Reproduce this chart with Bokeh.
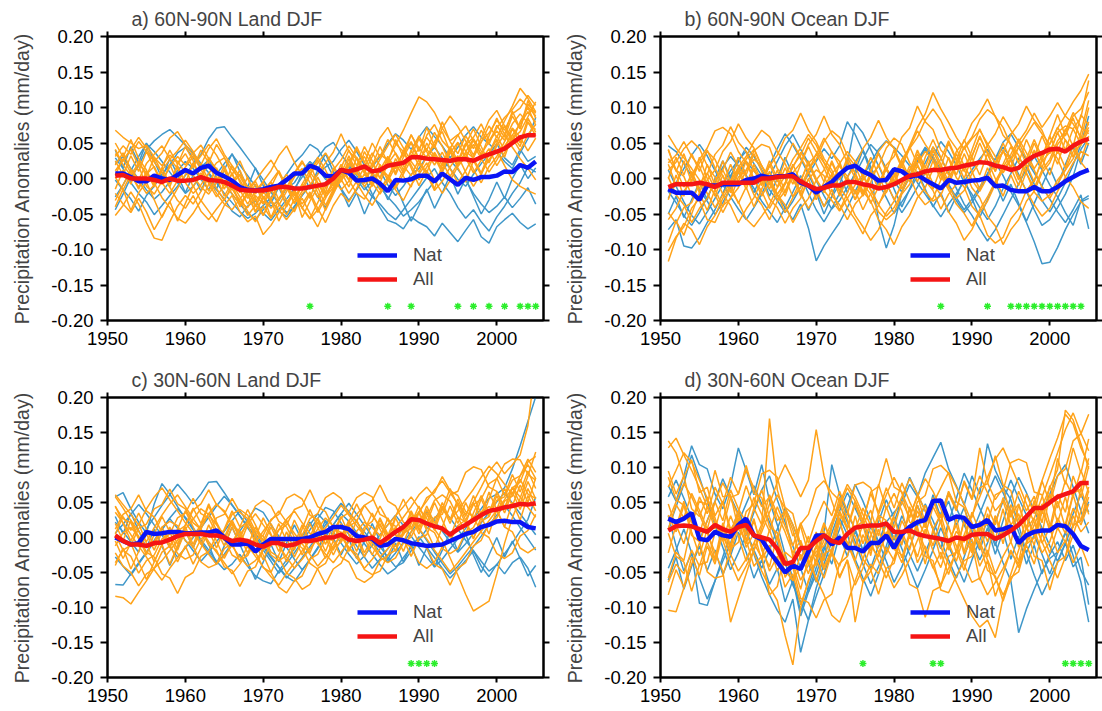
from bokeh.plotting import figure
from bokeh.models import (Range1d, LinearAxis, FixedTicker, PrintfTickFormatter,
                          CustomJSTickFormatter, Legend, LegendItem)
from bokeh.layouts import column, row
from bokeh.embed import file_html
from bokeh.resources import INLINE

FONT = "Liberation Sans"
YEARS = list(range(1951, 2006))
X_TICKS = [1950, 1960, 1970, 1980, 1990, 2000]
Y_TICKS = [-0.2, -0.15, -0.1, -0.05, 0.0, 0.05, 0.1, 0.15, 0.2]
STAR_LEVEL = -0.18
UNIT = 0.001  # series below are written in 1/1000 mm/day

TITLES = ["a) 60N-90N Land DJF", "b) 60N-90N Ocean DJF",
          "c) 30N-60N Land DJF", "d) 30N-60N Ocean DJF"]
YLABEL = "Precipitation Anomalies (mm/day)"

# ---------------- panel a : 60N-90N Land ----------------
A_ALL_MEAN = [4, 5, 0, 0, 0, -2, -5, 0, -3, -3,
              -2, 2, -2, -3, -5, -10, -16, -17, -17, -17,
              -15, -12, -12, -14, -14, -12, -10, -8, 0, 12,
              10, 13, 17, 10, 12, 18, 20, 22, 30, 30,
              28, 27, 26, 25, 27, 27, 25, 30, 34, 38,
              42, 50, 58, 61, 61]
A_NAT_MEAN = [7, 7, 2, -4, -4, 4, 0, -2, 5, 12,
              7, 15, 18, 8, 3, -3, -12, -16, -17, -15,
              -12, -10, -2, 7, 7, 18, 14, 4, 3, 12,
              8, -3, -2, 0, -7, -18, -2, -3, -1, 4,
              4, -4, 7, -1, -9, 1, -2, 2, 2, 4,
              10, 9, 19, 15, 24]
A_ALL_RUNS = [
    [68, 58, 50, 42, 47, 30, 18, 33, 24, 8,
     4, -12, -22, -6, 12, -14, -33, -41, -24, -36,
     -18, -8, -31, -47, -22, -9, 6, 22, 37, 63,
     38, 27, 8, 31, 57, 72, 49, 38, 61, 43,
     29, 52, 66, 38, 24, 47, 58, 77, 53, 71,
     86, 97, 112, 101, 88],
    [35, 24, 41, 18, -11, -22, -4, 16, 31, 19,
     36, 47, 28, 13, -7, -21, -37, -19, -4, -27,
     -42, -28, -13, 7, 22, 9, -6, -22, -8, 6,
     21, 8, -7, 17, 34, 26, 47, 68, 92, 115,
     108, 93, 71, 53, 62, 38, 29, 52, 64, 82,
     68, 91, 99, 117, 103],
    [-52, -38, -19, -36, -62, -84, -87, -61, -39, -24,
     -36, -18, 2, -14, -31, -9, 6, -12, -32, -18,
     -4, 11, -11, -27, -41, -56, -34, -13, 1, -16,
     -4, 16, 31, 9, -6, 21, 36, 18, 4, 27,
     41, 28, 14, 36, 51, 29, 8, 26, 42, 18,
     36, 57, 39, 62, 76],
    [31, 46, 34, 52, 38, 24, 36, 57, 66, 48,
     33, 19, 42, 56, 34, 18, 3, -16, -37, -52,
     -29, -11, 6, -17, -36, -19, -42, -62, -38, -21,
     -33, -14, 7, -11, 12, 31, 14, 37, 52, 28,
     61, 76, 53, 41, 18, 37, 56, 39, 23, 46,
     62, 44, 28, 14, -2],
    [2, -16, 6, 21, 8, -6, -27, -41, -56, -63,
     -49, -31, -46, -61, -38, -24, -47, -61, -53, -79,
     -66, -48, -34, -19, -42, -57, -44, -23, -4, 12,
     -2, -21, -29, -8, 16, 4, -11, 12, 31, 56,
     38, 19, 37, 14, -6, 11, 32, 51, 74, 58,
     81, 102, 127, 113, 94],
    [19, 36, 13, -2, 21, 34, 46, 28, 14, -6,
     -21, -9, 7, 22, 29, 13, -2, -22, -46, -28,
     -14, -36, -51, -29, -8, 11, 26, 3, -16, 2,
     17, 41, 23, 4, -16, 2, 21, 3, -12, 22,
     6, -17, -4, 16, 32, 9, -11, 7, 27, 39,
     18, -2, -11, -17, -22],
    [-21, -36, -48, -28, -47, -72, -53, -33, -14, 6,
     17, 32, 48, 33, 13, -7, -26, -46, -61, -39,
     -56, -38, -18, 2, 14, -6, -27, -9, 12, 26,
     46, 29, 8, -6, -22, -4, 17, 36, 19, -2,
     16, 37, 18, 42, 61, 74, 53, 34, 52, 67,
     54, 77, 91, 78, 69],
    [41, 19, 4, -12, 6, 17, -6, -21, -3, 16,
     31, 13, -7, -26, -9, 6, -16, -36, -18, -4,
     11, 32, 46, 23, 4, 21, -7, -26, -13, 7,
     32, 9, -12, 6, 27, 46, 62, 43, 24, 9,
     31, 47, 23, 3, 21, 36, 13, -6, 17, 31,
     52, 71, 58, 39, 57],
    [11, 26, 41, 58, 43, 23, 9, -12, -31, -42,
     -24, -46, -58, -43, -29, -14, -31, -52, -38, -19,
     -31, -44, -58, -43, -28, -49, -68, -43, -18, -3,
     11, -6, -24, -38, -19, 2, -14, 6, 27, 42,
     58, 43, 71, 88, 73, 53, 33, 57, 82, 96,
     74, 56, 66, 87, 108],
    [-31, -9, 12, -4, -21, -9, 11, 27, 39, 54,
     38, 18, -2, -21, -36, -44, -29, -14, -3, 12,
     26, 8, -12, -24, -13, 6, 22, 36, 18, -1,
     -21, -4, 16, 36, 18, -2, -16, -31, -9, 6,
     22, -2, -21, -3, 17, 31, 48, 28, 9, 26,
     46, 61, 77, 94, 79],
    [25, 5, 32, 10, 38, 15, -8, 20, -5, 15,
     -12, 8, -18, 3, -25, -5, -40, -22, -48, -25,
     -55, -30, -12, -35, -8, -28, 2, -20, 15, -5,
     28, 5, 38, 18, 45, 22, 55, 30, 62, 38,
     72, 45, 80, 52, 35, 60, 42, 68, 48, 75,
     58, 88, 70, 105, 92],
    [-15, 12, -8, 25, 3, 30, 8, -12, 18, -6,
     22, -2, 30, 10, -15, 8, -20, 2, -28, -52,
     -30, -60, -38, -15, -42, -22, -48, -28, -5, 20,
     -2, 30, 12, -8, 20, -2, 28, 8, 40, 18,
     50, 30, 8, 38, 15, -5, 25, 5, 35, 55,
     30, 62, 45, 80, 60],
    [50, 30, 55, 28, 12, -10, 15, -8, 20, 35,
     15, 40, 22, 48, 30, 5, 25, 0, -22, -5,
     -30, -8, -40, -18, -55, -32, -12, -38, -15, 10,
     -12, 15, -5, 22, 0, 30, 8, 40, 15, -10,
     12, -15, 20, 45, 25, 50, 28, 8, 35, 60,
     40, 70, 50, 85, 65],
    [-40, -15, -45, -20, -5, -30, -55, -32, -60, -35,
     -10, -32, -8, 15, -10, 18, -5, -28, -8, -35,
     -12, 10, -15, 8, 25, 5, 30, 12, -10, 15,
     40, 18, 45, 25, 0, 28, 5, 30, 50, 25,
     8, 35, 12, 40, 20, 48, 70, 45, 22, 50,
     75, 52, 80, 100, 75],
    [5, 28, 8, -15, 10, -12, 15, 40, 20, 45,
     25, 0, 22, -5, 18, -8, 12, -15, -40, -18,
     -5, -30, -10, -35, -18, 5, -20, -45, -22, 0,
     20, 45, 22, 50, 30, 55, 35, 12, 38, 60,
     40, 65, 45, 22, 50, 28, 55, 32, 60, 85,
     62, 95, 70, 110, 85],
]
A_NAT_RUNS = [
    [-44, -22, 2, 18, 41, 53, 62, 69, 58, 47,
     36, 21, 8, -6, -21, -34, -47, -56, -49, -38,
     -27, -9, 6, 22, 33, 48, 41, 24, 3, -14,
     -31, -16, 1, -22, -41, -59, -63, -71, -54, -62,
     -68, -81, -63, -76, -89, -73, -58, -82, -91, -68,
     -58, -49, -62, -71, -64],
    [29, 14, -6, -21, -33, -51, -38, -24, -11, 4,
     21, 34, 56, 71, 73, 58, 44, 29, 14, -2,
     -19, -36, -48, -41, -23, -11, 7, 16, 24, 41,
     54, 38, 19, 6, -12, -26, -38, -53, -44, -33,
     -18, -4, 11, 26, 13, -2, -21, -36, -48, -39,
     -26, -41, -28, -13, -36],
    [-2, -16, -29, -46, -24, -11, 6, 19, 36, 44,
     29, 16, 26, 9, -6, -22, -36, -49, -58, -44,
     -31, -46, -54, -39, -24, -9, -26, -41, -19, 6,
     21, 9, -4, 16, 31, 49, 63, 54, 41, 58,
     73, 59, 46, 29, 44, 61, 73, 58, 49, 38,
     24, 14, 36, 56, 86],
    [-26, -9, 11, 31, 49, 38, 24, 9, -6, -21,
     -11, 4, -4, -16, -29, -46, -54, -39, -31, -49,
     -59, -44, -29, -14, 2, 16, 29, 44, 51, 34,
     19, 4, -11, -26, -36, -49, -58, -44, -29, -14,
     1, 14, -6, -21, -41, -56, -44, -61, -74, -54,
     -39, -21, -6, 16, 9],
    [21, 31, 14, -1, -16, -29, -19, -4, 11, 24,
     14, -1, -16, 6, 21, 34, 19, 4, -11, -26,
     -39, -31, -14, -6, 11, 24, 14, -1, -9, 6,
     16, -1, -16, -4, 11, -9, -24, -11, 6, 14,
     31, 44, 29, 14, -1, -11, 6, 21, 34, 49,
     29, 19, 41, 24, 31],
    [40, 15, 45, 22, 50, 25, 0, 28, 5, -20,
     5, -18, 8, -15, 12, 35, 10, -12, 15, -10,
     -35, -12, -38, -18, 8, -15, 12, 35, 10, -15,
     -40, -20, -50, -25, -5, -30, -8, -35, -60, -38,
     -15, -42, -20, 5, -22, 0, -25, -50, -30, -5,
     -28, 0, 20, 0, 15],
]
A_STARS = [1976, 1986, 1989, 1995, 1997, 1999, 2001, 2003, 2004, 2005]

# ---------------- panel b : 60N-90N Ocean ----------------
B_ALL_MEAN = [-12, -8, -8, -8, -6, -8, -12, -6, -6, -6,
              -6, -6, 0, 0, 2, 3, 3, -4, -10, -15,
              -13, -10, -10, -5, -5, -8, -10, -14, -12, -8,
              -2, 4, 6, 10, 12, 12, 14, 15, 18, 20,
              23, 22, 18, 16, 12, 15, 25, 32, 36, 41,
              42, 38, 46, 52, 56]
B_NAT_MEAN = [-15, -20, -20, -20, -30, -10, -10, -8, -8, -8,
              -2, 0, 4, 1, 3, 3, 6, -6, -10, -20,
              -12, -5, 6, 15, 18, 10, 5, -3, -2, 13,
              10, 2, 5, -2, -8, -14, -2, -6, -5, -3,
              -2, 1, -11, -10, -16, -18, -18, -12, -18, -18,
              -12, -4, 2, 8, 12]
B_ALL_RUNS = [
    [-117, -84, -63, -72, -93, -68, -52, -28, -9, 12,
     27, 41, 18, -2, -22, -6, 16, 37, 19, -3,
     -17, -31, -46, -28, -9, 6, -16, -36, -19, 2,
     21, 46, 72, 91, 121, 98, 79, 58, 41, 56,
     68, 49, 31, 8, 26, 44, 62, 79, 63, 48,
     71, 89, 108, 124, 147],
    [61, 43, 29, 14, -2, -21, -41, -23, -4, 16,
     31, 52, 68, 59, 38, 21, -2, -21, -42, -24,
     -11, 6, 21, 38, 24, 3, -16, -37, -53, -41,
     -19, 2, 21, 38, 26, 4, -16, -36, -49, -67,
     -44, -26, -4, 16, 34, 56, 36, 14, 31, 49,
     72, 54, 41, 23, 9],
    [41, 12, 3, -24, -31, -58, -62, -38, -29, 2,
     11, 39, 48, 44, 14, 1, -26, -3, 21, 33,
     57, 37, 24, -8, -17, -44, -21, -10, 19, 31,
     58, 71, 102, 80, 69, 40, 28, 1, -12, -39,
     -52, -80, -91, -83, -57, -43, -17, -2, 24, 37,
     65, 74, 70, 86, 138],
    [-48, -63, -41, -34, -7, 6, 34, 47, 73, 51,
     38, 11, -2, -29, -41, -63, -42, -28, -1, 12,
     4, -24, -37, -58, -36, -23, 4, 17, 43, 57,
     48, 22, 8, -18, -32, -24, 3, 17, 44, 58,
     83, 97, 88, 61, 48, 22, 8, -19, -32, -23,
     -2, 12, 38, 47, 68],
    [22, 33, 52, 31, 17, -8, -22, -48, -27, -13,
     12, 27, 18, -8, -22, -48, -27, -12, 13, 27,
     52, 67, 58, 32, 18, -8, -22, -47, -58, -48,
     -22, -8, 18, -3, -17, -43, -22, -8, 18, 32,
     58, 37, 23, 37, 62, 77, 102, 82, 68, 42,
     28, 2, -12, -33, -42],
    [-102, -82, -68, -42, -28, -2, 12, 38, 52, 77,
     57, 43, 17, 3, -23, -37, -62, -42, -28, -2,
     12, 38, 17, 3, -22, -2, 12, 38, 52, 43,
     17, 3, -23, -37, -28, -2, 12, 38, 52, 78,
     92, 112, 87, 72, 47, 33, 7, -13, 12, 27,
     53, 67, 93, 72, 63],
    [2, -23, -37, -62, -42, -28, -2, 12, 37, 17,
     3, -23, -37, -58, -32, -18, 8, 22, 48, 62,
     88, 62, 48, 22, 8, -18, -32, -58, -72, -93,
     -68, -52, -27, -13, 13, 27, 53, 27, 13, -13,
     -27, -53, -67, -93, -72, -58, -32, -18, 8, 22,
     48, 62, 88, 98, 122],
    [28, 12, -12, 3, 27, 43, 67, 72, 63, 38,
     22, -2, -18, -42, -22, -8, 17, 33, 57, 38,
     22, -2, -18, -42, -58, -78, -52, -38, -12, 3,
     27, 43, 67, 48, 32, 8, -12, -28, -17, 7,
     23, 47, 63, 87, 68, 52, 28, 12, -12, -28,
     -8, 12, 28, 52, 72],
    [-58, -42, -18, -2, 22, 38, 27, 3, -17, -33,
     -57, -68, -53, -37, -13, 3, 27, 43, 62, 47,
     23, 7, -17, 2, 18, 42, 58, 82, 58, 42,
     18, 42, 58, 82, 98, 82, 58, 42, 18, -2,
     -18, 2, 22, 38, 27, 3, -17, -37, -53, -42,
     -18, 2, 22, 38, 32],
    [12, 23, 42, 53, 42, 18, 2, -22, -38, -62,
     -43, -27, -3, 17, 33, 57, 68, 92, 68, 52,
     28, 12, -12, -28, -52, -68, -87, -72, -48, -32,
     -8, 12, 28, 17, -7, -23, -47, -63, -87, -72,
     -48, -32, -8, 12, 28, 52, 68, 92, 72, 88,
     107, 88, 77, 58, 47],
    [-30, 5, -25, 10, -15, 20, -10, 25, -5, 30,
     5, 35, 10, -15, 12, -20, 8, -25, 0, -30,
     -5, 25, 0, 30, 8, -20, 10, -15, 15, -10,
     20, -5, 30, 5, 40, 15, 50, 25, 55, 30,
     60, 35, 10, 40, 15, 45, 20, 50, 25, 60,
     35, 70, 45, 90, 75],
    [20, -10, 25, -5, 30, 0, -25, 5, -20, 10,
     -15, 15, -10, 20, -5, 25, 50, 30, 10, 35,
     15, -10, 20, -5, -30, -8, -35, -12, 15, -5,
     25, 0, 35, 10, -15, 15, -10, 20, 45, 20,
     50, 25, 0, -25, 5, -20, 10, 40, 15, 45,
     20, 55, 30, 65, 110],
    [-90, -60, -80, -50, -20, -45, -15, -40, -10, 15,
     -10, 20, -5, 25, 0, -25, 5, -20, 10, -15,
     -40, -15, -45, -20, 5, -22, 8, 35, 10, 40,
     15, 45, 20, -5, 25, -2, 30, 5, 35, 10,
     -15, 15, -12, 20, 45, 22, 55, 30, 60, 35,
     65, 40, 70, 48, 80],
    [0, 30, 5, 35, 10, 40, 15, -10, 20, -5,
     25, 0, -25, -5, -30, -8, 20, -5, 25, 0,
     -20, 5, -25, 0, -30, 2, 30, 5, -20, 8,
     -15, 10, 40, 15, 45, 20, -5, 25, 0, 30,
     5, 35, 10, 40, 15, -10, 20, -5, 28, 5,
     40, 15, 50, 25, 60],
    [40, 10, 35, 5, -20, 8, -15, 12, -10, -35,
     -12, -40, -15, 10, -12, 15, -8, 20, 45, 20,
     -5, 22, -2, 25, 0, -25, -5, 20, -5, -30,
     -8, 18, -5, 30, 55, 30, 5, 35, 10, 40,
     70, 45, 20, 50, 25, -2, 28, 55, 30, 60,
     90, 60, 85, 55, 100],
]
B_NAT_RUNS = [
    [-72, -58, -95, -98, -83, -62, -44, -21, 4, 23,
     44, 31, 12, -6, -23, -41, -58, -36, -70, -116,
     -95, -78, -62, -41, -18, 3, 22, 41, 53, 44,
     32, 18, -6, -22, -38, -54, -36, -21, -4, 12,
     28, 41, 23, 4, -19, -38, -62, -89, -120, -118,
     -97, -72, -51, -33, -28],
    [46, 38, 21, 3, -16, -32, -51, -34, -13, 8,
     24, 11, -4, 18, 42, 63, 47, 28, 6, -18,
     -39, -26, -8, 21, 78, 64, 41, 18, -7, -29,
     -48, -31, -12, 8, 31, 52, 38, 19, -6, -22,
     -41, -58, -39, -14, 7, 29, 16, -8, -31, -47,
     -28, -6, 19, 48, 88],
    [-28, -6, 14, 33, 48, 32, 11, -9, -26, -43,
     -58, -41, -22, 3, 24, 46, 62, 41, 22, -3,
     -24, -43, -31, -12, 6, 27, 48, 36, 14, -4,
     -19, 2, 24, 41, 28, 11, -8, -27, -44, -29,
     -12, 7, 28, 51, 63, 44, 26, 8, -11, -29,
     -47, -62, -44, -23, -71],
    [12, -11, -33, -52, -64, -47, -28, -9, 11, 26,
     38, 21, 4, -16, -31, -48, -32, -12, 6, 24,
     42, 28, 46, 80, 62, 38, 16, -6, -27, -49,
     -33, -16, 3, 22, 44, 29, 8, -14, -36, -52,
     -71, -88, -72, -51, -29, -8, 14, 31, 12, -9,
     -26, -48, -66, -31, -24],
    [-18, -34, -52, -66, -48, -26, -6, 16, 31, 18,
     4, -14, -32, -47, -62, -41, -19, 4, -21, -44,
     -61, -42, -21, 2, 23, 41, 7, -58, -98, -66,
     -19, 4, 26, 44, 31, 12, -9, -31, -48, -34,
     -16, 6, 28, 44, 29, 6, -18, -44, -66, -58,
     -41, -22, 3, 41, 58],
    [-50, -25, -55, -30, -5, -30, 0, 25, 0, 30,
     5, -20, 5, -25, 0, 30, 5, -20, -45, -20,
     -50, -25, 5, -20, 10, 40, 15, -10, 15, -15,
     -40, -15, 10, -15, -40, -20, -48, -25, 0, -28,
     -55, -30, -5, -32, -8, -35, -60, -35, -10, 15,
     -10, 20, 45, 20, 50],
]
B_STARS = [1986, 1992, 1995, 1996, 1997, 1998, 1999, 2000, 2001, 2002, 2003, 2004]

# ---------------- panel c : 30N-60N Land ----------------
C_ALL_MEAN = [3, -5, -10, -10, -12, -8, -7, -3, 2, 5,
              5, 5, 3, 3, 0, -5, -3, -5, -10, -13,
              -8, -8, -12, -10, -5, -5, -3, 0, 0, 4,
              -3, -5, -3, 0, -8, 0, 8, 15, 26, 25,
              20, 16, 13, 4, 12, 18, 25, 32, 38, 40,
              43, 45, 48, 47, 49]
C_NAT_MEAN = [0, -5, -10, -8, 8, 5, 6, 8, 8, 6,
              6, 7, 7, 10, 0, -10, -10, -8, -20, -10,
              -2, -2, -2, -2, -2, 0, 5, 8, 15, 15,
              12, 2, 0, -2, -12, -10, -2, -4, -8, -10,
              -12, -11, -10, -5, 0, 5, 8, 15, 18, 23,
              24, 22, 22, 15, 13]
C_ALL_RUNS = [
    [-84, -86, -95, -78, -62, -44, -33, -19, -4, 12,
     26, 41, 33, 18, 4, -12, -28, -41, -33, -18,
     -4, 11, 26, 38, 21, 6, -9, -24, -36, -21,
     -6, 9, 22, 14, 3, 18, 31, 44, 58, 42,
     27, 12, -4, -29, -54, -81, -105, -98, -91, -52,
     -8, 28, 56, 88, 122],
    [58, 42, 24, 9, -6, 14, 32, 48, 61, 44,
     27, 11, -6, -21, -36, -52, -38, -22, -7, 9,
     24, 38, 22, 6, -9, -24, -41, -28, -12, 4,
     18, 33, 46, 31, 17, 2, -13, 4, 21, 37,
     52, 68, 81, 64, 48, 33, 51, 72, 94, 108,
     91, 104, 118, 160, 250],
    [36, 21, 4, -12, -28, -46, -61, -44, -29, -14,
     2, 18, 34, 48, 36, 19, 4, -11, -27, -42,
     -56, -68, -51, -36, -19, -4, 12, 28, 16, 1,
     -14, -29, -44, -31, -16, -1, 14, 29, 44, 61,
     72, 58, 41, 26, 38, 54, 69, 86, 102, 91,
     76, 62, 88, 104, 84],
    [61, 47, 33, 18, 41, 58, 71, 54, 38, 21,
     6, -9, -24, -38, -26, -11, 4, 19, 34, 18,
     3, -12, -28, -44, -31, -16, -2, 14, 29, 46,
     32, 17, 2, -13, -28, -16, -1, 14, 29, 13,
     -2, -18, -33, -49, -36, -21, -6, 9, 24, 39,
     54, 71, 58, 43, 29],
    [-22, -41, -50, -69, -52, -44, -21, -12, 9, 17,
     39, 48, 68, 47, 38, 17, 9, -14, -21, -43,
     -50, -71, -79, -62, -55, -31, -24, -2, 4, 28,
     36, 57, 64, 58, 33, 27, 3, -2, -27, -1,
     4, 29, 33, 61, 66, 93, 101, 97, 72, 66,
     42, 71, 79, 108, 116],
    [12, 33, 41, 61, 38, 29, 7, -1, -23, -31,
     -25, -2, 5, 28, 33, 56, 36, 27, 5, -3,
     -25, -33, -26, -4, 3, 27, 34, 57, 64, 56,
     33, 24, 2, -6, -28, -36, -29, -8, 1, 23,
     29, 53, 61, 52, 29, 22, -1, 23, 30, 53,
     58, 82, 88, 112, 93],
    [-36, -18, -11, 13, 19, 41, 47, 69, 48, 41,
     21, 12, -11, -18, -42, -47, -70, -48, -42, -17,
     -12, 11, 18, 40, 45, 68, 44, 37, 14, 7,
     -16, -23, -46, -53, -48, -25, -18, 6, 13, 37,
     14, 7, -16, -23, -16, 7, 14, 37, 44, 38,
     15, 8, -15, -22, -14],
    [44, 27, 21, -2, -11, -6, 15, 23, 17, -5,
     -13, -35, -43, -38, -16, -8, 14, 22, 45, 53,
     45, 23, 15, -7, -15, -37, -45, -67, -45, -37,
     -15, -7, 15, 23, 45, 24, 16, -6, -14, -36,
     -44, -35, -13, -5, 17, 25, 47, 55, 77, 84,
     105, 112, 111, 90, 82],
    [4, -18, -27, -51, -33, -25, -2, 5, 28, 35,
     56, 34, 28, 5, -2, -25, -32, -26, -4, 3,
     26, 33, 56, 62, 55, 32, 25, 2, -5, -28,
     -35, -58, -64, -56, -33, -26, -3, 4, 27, 34,
     57, 64, 87, 67, 60, 37, 30, 7, 0, -23,
     -30, -22, 2, 10, 33],
    [-12, 7, 14, 2, -21, -28, -52, -58, -80, -57,
     -50, -27, -20, 3, 10, 33, 40, 32, 9, 2,
     -21, -28, -51, -58, -74, -67, -44, -37, -14, -7,
     16, 23, 46, 53, 75, 52, 45, 22, 15, -8,
     -15, -38, -45, -68, -44, -36, -12, -4, 20, 28,
     52, 59, 83, 62, 56],
    [20, -5, 25, 0, -25, 5, 30, 8, -18, 10,
     -15, 12, 35, 10, -12, 15, -10, 18, -8, -32,
     -8, 20, -5, 25, 2, -22, 5, -20, 8, 30,
     5, -20, 10, 35, 12, -10, 15, -8, 20, 45,
     20, 50, 25, 0, 30, 5, 35, 60, 35, 65,
     40, 72, 48, 80, 55],
    [-40, -15, -45, -20, 5, -18, 8, -15, 12, 38,
     15, -10, 18, -5, -30, -8, -35, -12, 15, -10,
     15, -8, -35, -10, 18, -5, 22, 0, -25, -2,
     25, 0, -28, -5, 20, -5, 28, 5, 35, 10,
     40, 15, 45, 20, 50, 25, -2, 30, 5, 40,
     15, 50, 25, 60, 38],
    [5, 30, 10, 35, 12, -12, 15, -10, -35, -12,
     -38, -15, 10, -15, 12, 38, 15, 40, 18, -5,
     20, -2, 25, 0, -25, 0, 28, 5, -18, 8,
     -20, 5, -22, 0, 28, 5, -20, 10, 38, 15,
     45, 20, 50, 25, 55, 30, 60, 32, 65, 40,
     70, 45, 75, 50, 85],
    [45, 20, -5, 20, -8, -35, -10, 15, -10, 18,
     42, 20, 48, 22, 0, 25, 2, -22, 2, -25,
     -50, -25, 0, -28, -5, 20, -5, -30, -5, 20,
     -5, 25, 0, -25, -2, 28, 5, -20, 8, 35,
     10, -15, 15, 45, 20, 50, 25, 55, 30, 60,
     35, 65, 40, 70, 45],
    [-5, -30, -8, -35, -60, -35, -10, -38, -12, 15,
     -10, 18, 45, 20, -5, 22, -2, 25, 0, 28,
     5, -20, 8, -18, 12, 40, 15, -10, 18, -5,
     22, 48, 25, 0, 25, 2, 30, 55, 30, 5,
     35, 10, 40, 70, 45, 20, 50, 25, 55, 85,
     60, 90, 65, 95, 70],
]
C_NAT_RUNS = [
    [-67, -68, -52, -36, -21, -4, 12, 28, 41, 29,
     14, -3, -18, -34, -46, -38, -24, -41, -55, -62,
     -66, -48, -32, -16, 2, 18, 34, 22, 8, -8,
     -24, -38, -26, -11, 4, 18, 32, 17, 2, -14,
     -28, -42, -31, -16, -2, 13, 28, 41, 56, 62,
     71, 98, 131, 166, 201],
    [58, 64, 41, 22, 6, 48, 77, 62, 44, 27,
     11, -6, -22, -38, -24, -8, 9, 26, 42, 36,
     18, 2, -14, -31, -46, -32, -16, 1, 18, 34,
     49, 33, 17, 2, -13, -28, -42, -36, -19, -4,
     12, 27, 41, 28, 12, -4, -19, -34, -48, -39,
     -23, -8, 9, 26, 58],
    [22, 8, -6, -21, 12, 29, 46, 61, 76, 63,
     48, 62, 79, 80, 64, 47, 31, 14, -2, -18,
     -34, -51, -38, -22, -6, 11, 27, 43, 38, 21,
     4, -12, -28, -44, -31, -16, -2, 13, 28, 12,
     -4, -21, -37, -52, -41, -27, -13, 2, 18, 32,
     46, 31, 14, -2, -18],
    [-28, -41, -54, -38, -22, -6, 11, 27, 13, -4,
     -19, -34, -21, -6, 9, 24, 38, 22, 6, -11,
     -27, -42, -56, -63, -47, -31, -14, 2, 18, 34,
     23, 7, -9, -24, -39, -52, -44, -29, -14, 1,
     -14, -29, -44, -58, -46, -33, -19, -41, -56, -38,
     -52, -36, -28, -44, -71],
    [6, 19, 33, 47, 34, 18, 3, -13, -28, -15,
     0, 14, 29, 45, 59, 46, 31, 16, 1, -14,
     -29, -43, -58, -44, -29, -13, 2, 18, 34, 49,
     37, 22, 8, -6, -21, -35, -22, -7, 8, 23,
     37, 24, 9, -6, -21, -9, 6, 21, 36, 51,
     64, 49, 34, 19, 4],
    [30, 5, 35, 10, -15, 12, -12, -40, -15, 10,
     -15, 12, -10, -38, -12, 15, -10, -35, -60, -35,
     -10, -35, -8, 18, -5, 22, -2, 25, 0, -25,
     -2, -30, -5, 20, -5, -32, -8, -35, -10, -40,
     -15, -42, -18, 8, -20, 5, -25, -50, -25, 0,
     -28, -5, -30, -55, -40],
]
C_STARS = [1989, 1990, 1991, 1992]

# ---------------- panel d : 30N-60N Ocean ----------------
D_ALL_MEAN = [10, 16, 17, 16, 12, 8, 18, 12, 8, 15,
              18, 3, 0, -3, -16, -38, -35, -15, -15, -5,
              3, -5, -8, 5, 14, 16, 17, 17, 20, 8,
              8, 10, 5, 2, 0, -2, -5, 0, -2, 4,
              5, 5, -2, 3, 10, 18, 30, 42, 42, 50,
              58, 62, 66, 78, 78]
D_NAT_MEAN = [27, 22, 27, 35, -2, -4, 8, 3, 1, 18,
              27, 3, -3, -20, -35, -50, -40, -45, -20, 3,
              3, -10, 0, -15, -15, -20, -8, -8, 3, -15,
              5, 15, 22, 25, 52, 53, 25, 30, 28, 15,
              18, 25, 10, 12, 16, -8, 3, 8, 10, 10,
              18, 16, 5, -12, -18]
D_ALL_RUNS = [
    [128, 142, 118, 96, 71, 44, 22, 3, -24, -48,
     -31, -8, 19, 170, 68, 31, -28, -61, -39, -20,
     -12, 16, 44, 71, 52, 24, -6, -34, -58, -29,
     2, 31, 58, 84, 66, 41, 14, -12, -39, -64,
     -58, -82, -64, -44, -21, -38, -6, 27, 58, 89,
     121, 154, 178, 149, 124],
    [-104, -106, -72, -38, -8, 24, 51, 78, 56, 31,
     8, -22, -48, -71, -90, -140, -182, -100, -61, -32,
     -4, 22, 49, 76, 58, 33, 6, -21, -46, -72,
     -54, -31, -4, 22, 48, 71, 93, 72, 48, 21,
     -6, -32, -58, -82, -61, -36, -9, 18, 44, 71,
     97, 182, 168, 134, 98],
    [72, 96, 121, 108, 82, 56, 28, -4, -36, -62,
     -41, -18, 8, 36, 61, 42, 18, -8, -34, -58,
     -82, -111, -121, -94, -62, -31, 2, 33, 61, 86,
     64, 38, 12, -16, -42, -68, -44, -21, 4, 31,
     58, 86, 112, 128, 102, 76, 48, 21, -6, -33,
     -58, -28, 4, 38, 72],
    [24, 51, 77, 58, 33, 6, -21, -48, -121, -86,
     -52, -18, 14, 48, 79, 104, 82, 58, 82, 154,
     88, 52, 21, -8, -36, -64, -48, -22, 4, 32,
     58, 84, 62, 38, 12, -14, -38, -64, -88, -112,
     -128, -118, -143, -86, -52, -18, 14, 48, 81, 113,
     142, 176, 162, 128, 104],
    [-58, -21, -33, 18, 52, 47, 96, 58, 61, 12,
     -3, -41, -26, -82, -70, -21, -30, 19, 33, 70,
     81, 64, 53, 11, 2, -31, -46, -81, -44, -37,
     4, 12, 51, 60, 98, 103, 92, 51, 43, 4,
     -9, -47, -55, -91, -57, -49, -9, -1, 39, 47,
     88, 98, 138, 148, 176],
    [86, 54, 46, 3, -6, -49, -58, -55, -16, -7,
     37, 48, 91, 96, 86, 43, 34, -11, -19, -63,
     -23, -17, 27, 33, 75, 79, 71, 32, 24, -17,
     -25, -67, -73, -114, -76, -70, -27, -21, 23, 29,
     71, 77, 117, 75, 67, 25, 17, -27, -33, -75,
     -35, -27, 17, 25, 67],
    [6, -27, -35, -77, -39, -35, 7, 13, 57, 62,
     103, 63, 57, 15, 7, -35, -43, -87, -93, -115,
     -89, -81, -37, -27, 15, 23, 65, 73, 113, 72,
     65, 22, 15, -27, -33, -75, -79, -55, -33, -27,
     15, 19, 61, 67, 107, 112, 107, 65, 61, 19,
     13, 19, 63, 69, 113],
    [138, 121, 86, 111, 64, 72, 31, 52, 12, 28,
     -14, 6, -32, -11, -48, -26, -62, -41, -9, -28,
     18, -6, 38, 14, 52, 24, 63, 36, 71, 42,
     78, 51, 28, 46, 12, 33, -6, 18, -24, -2,
     -41, -18, -52, -27, -6, -34, 16, -11, 38, 14,
     62, 36, 88, 57, 102],
    [-64, -38, -52, -18, -41, -6, -33, 12, -16, 28,
     4, 42, 18, 61, 33, 8, -22, -4, -38, -12,
     -46, -21, -58, -32, -121, -64, -38, -52, -14, -33,
     8, -18, 26, 3, 44, 21, 62, 38, 81, 56,
     128, 78, 54, 71, 32, 48, 12, 28, -8, 14,
     -22, -4, -36, -12, -41],
    [32, 8, 46, 21, 58, 34, 72, 48, 86, 62,
     96, 71, 44, 58, 24, 38, 2, 16, -24, -6,
     -42, -18, -56, -32, -68, -44, -12, -28, 8, -14,
     24, 2, 38, 16, 52, 28, 66, 42, 78, 54,
     88, 64, 38, 52, 18, 34, -4, 12, -22, -6,
     28, 6, 42, 18, 48],
    [95, 62, 88, 41, 30, 58, 22, -5, 31, 2,
     -34, -8, -29, 11, -22, -48, -61, -24, -52, -12,
     21, -6, 34, 12, 47, 18, 39, 2, 44, 14,
     52, 28, 61, 20, -12, 25, -18, 9, -7, 36,
     8, 44, 18, 57, 29, 66, 38, 59, 21, 74,
     42, 81, 58, 96, 64],
    [-22, 18, -9, 33, 4, 45, 12, 51, 6, 38,
     -4, 27, -18, -42, 3, -57, -38, -74, -29, 8,
     -33, 14, 58, 26, -14, 19, -26, 31, -2, 29,
     -11, 44, 7, -38, 12, -31, 17, -22, 26, -19,
     22, -28, 31, -9, 40, -14, 29, 2, 48, 9,
     52, 14, 61, 23, 58],
    [48, 14, 52, 8, -26, 12, -31, 21, -12, 36,
     74, 42, 68, 29, -4, 38, 11, -33, 2, -41,
     9, -27, 24, -16, 31, -9, 22, 76, 41, 63,
     38, -2, 46, 14, 57, 21, -17, 28, -21, 19,
     -16, 34, -3, 41, -8, 47, 12, 53, 4, 62,
     21, 58, 14, 71, 33],
    [-82, -46, -71, -28, -54, -12, -38, 6, -22, 17,
     -9, 24, -13, -48, -27, -71, -52, -96, -63, -31,
     -58, -22, -41, -6, -33, 4, -19, 12, -24, 3,
     -29, 8, -36, -12, -44, -21, -53, -18, -47, -8,
     -61, -33, -84, -52, -18, -43, -11, -38, 6, -22,
     14, -7, 31, 8, 22],
    [12, 47, 28, 63, 39, 12, 51, 24, 68, 41,
     22, 57, 33, 9, 44, 16, -12, 21, -8, 26,
     52, 31, 66, 38, 11, 42, 17, -14, 19, -11,
     -36, 4, -28, 12, -19, -43, -8, -34, 3, -22,
     24, -6, 31, 3, 47, 18, 62, 34, 81, 49,
     113, 76, 128, 92, 141],
]
D_NAT_RUNS = [
    [74, 52, 88, 131, 104, 98, 62, 41, 74, 128,
     96, 61, 104, 52, 18, -24, -58, -106, -72, -31,
     8, 104, 62, 34, 12, -18, -44, -12, 22, 36,
     48, 76, 58, 92, 114, 136, 98, 74, 46, 88,
     62, 134, 96, 72, 54, 18, -22, 4, 38, 62,
     88, 104, 72, 38, 6],
    [31, -12, -48, -22, -94, -97, -62, -28, 6, 38,
     12, -24, -56, -82, -104, -121, -88, -164, -118, -72,
     -38, -6, 28, 4, -31, -58, -84, -52, -21, 12,
     -16, -44, -72, -46, -18, 14, -12, -38, -64, -32,
     -4, 24, -8, -36, -62, -136, -102, -74, -48, -30,
     -21, 8, -26, -64, -121],
    [12, 44, 76, 118, 86, 52, 18, -14, -46, -22,
     4, 36, 68, 88, 54, 22, -12, -44, -78, -52,
     -18, 16, 48, 22, -6, -38, -66, -42, -12, 22,
     54, 86, 62, 38, 12, -16, 22, 56, 92, 68,
     42, 18, -12, 24, 58, 86, 64, 38, 14, -12,
     -34, -8, 18, 24, 51],
    [-44, -18, 12, -22, -58, -88, -62, -34, -8, 22,
     48, 74, 48, 22, -8, -36, -68, -92, -118, -84,
     -52, -18, 12, 44, 76, 52, 24, -6, -34, -64,
     -42, -14, 16, 48, 24, -4, -32, -58, -28, 6,
     34, 62, 88, 64, 38, 8, -22, -54, -82, -58,
     -36, -8, -42, -28, -96],
    [58, 82, 56, 28, -4, 24, 52, 84, 58, 34,
     8, -18, -44, -18, 12, 42, 18, -12, -38, -64,
     -28, 6, 38, 64, 42, 18, -12, 22, 54, 28,
     2, -24, -48, -22, 6, 34, 64, 42, 18, -6,
     -32, -8, 22, 52, 82, 56, 32, 4, -24, -52,
     -22, 6, 34, 62, 36],
    [-61, -28, -74, -41, -12, -47, -18, -53, -26, 8,
     -21, -58, -32, -67, -44, -92, -61, -112, -78, -43,
     -12, -38, 4, -27, 9, -19, 16, -8, 24, -4,
     31, 7, 46, 18, 61, 29, 52, 17, 43, 8,
     -18, 14, -24, 9, -31, 2, -38, -11, -52, -24,
     -6, -33, -11, -47, -68],
]
D_STARS = [1976, 1985, 1986, 2002, 2003, 2004, 2005]

ALL_RUN_COLOR = "#ffa31a"
NAT_RUN_COLOR = "#3f97c9"
NAT_MEAN_COLOR = "#0a14f5"
ALL_MEAN_COLOR = "#f51414"
STAR_COLOR = "#2bee2b"


def scaled(values):
    if len(values) != len(YEARS):
        raise ValueError("series length %d" % len(values))
    return [v * UNIT for v in values]


def style_axis(ax, tick_out):
    ax.axis_line_width = 2
    ax.axis_line_color = "black"
    ax.major_tick_line_width = 2
    ax.major_tick_line_color = "black"
    ax.major_tick_in = 0
    ax.major_tick_out = tick_out
    ax.minor_tick_line_color = None
    ax.major_label_text_font = FONT
    ax.major_label_text_font_size = "18.5px"
    ax.major_label_text_color = "black"


def make_panel(title, nat_runs, all_runs, nat_mean, all_mean, stars,
               width, height, bl, br, bt, bb):
    p = figure(width=width, height=height,
               x_range=Range1d(1950, 2006), y_range=Range1d(-0.2, 0.2),
               output_backend="svg", toolbar_location=None,
               min_border_left=bl, min_border_right=br,
               min_border_top=bt, min_border_bottom=bb)
    p.xgrid.visible = False
    p.ygrid.visible = False
    p.outline_line_color = "black"
    p.outline_line_width = 2
    p.background_fill_color = "white"
    p.border_fill_color = "white"

    p.title.text = title
    p.title.text_font = FONT
    p.title.text_font_size = "19.5px"
    p.title.text_font_style = "normal"
    p.title.align = "left"
    p.title.offset = 24
    p.title.standoff = 3

    for run in nat_runs:
        p.line(YEARS, scaled(run), line_color=NAT_RUN_COLOR, line_width=1.5)
    for run in all_runs:
        p.line(YEARS, scaled(run), line_color=ALL_RUN_COLOR, line_width=1.5)
    rn = p.line(YEARS, scaled(nat_mean), line_color=NAT_MEAN_COLOR, line_width=4.5)
    ra = p.line(YEARS, scaled(all_mean), line_color=ALL_MEAN_COLOR, line_width=4.5)
    p.scatter(stars, [STAR_LEVEL] * len(stars), marker="asterisk", size=7,
              line_color=STAR_COLOR, line_width=1.4)

    p.xaxis.ticker = FixedTicker(ticks=X_TICKS)
    p.yaxis.ticker = FixedTicker(ticks=Y_TICKS)
    p.yaxis.formatter = PrintfTickFormatter(format="%.2f")
    style_axis(p.xaxis[0], 5)
    style_axis(p.yaxis[0], 7)
    p.xaxis.major_label_standoff = 6
    p.yaxis.major_label_standoff = 7
    p.yaxis.axis_label = YLABEL
    p.yaxis.axis_label_text_font = FONT
    p.yaxis.axis_label_text_font_size = "19.5px"
    p.yaxis.axis_label_text_font_style = "normal"
    p.yaxis.axis_label_standoff = 15

    blank = CustomJSTickFormatter(code="return ''")
    top = LinearAxis(ticker=FixedTicker(ticks=X_TICKS), formatter=blank,
                     major_label_standoff=0)
    style_axis(top, 5)
    top.major_label_text_font_size = "1px"
    right = LinearAxis(ticker=FixedTicker(ticks=Y_TICKS), formatter=blank,
                       major_label_standoff=0)
    style_axis(right, 6)
    right.major_label_text_font_size = "1px"
    p.add_layout(top, "above")
    p.add_layout(right, "right")

    legend = Legend(items=[LegendItem(label="Nat", renderers=[rn]),
                           LegendItem(label="All", renderers=[ra])],
                    location=(250, 30), orientation="vertical",
                    background_fill_alpha=0, border_line_alpha=0,
                    label_text_font=FONT, label_text_font_size="18.5px",
                    glyph_width=40, glyph_height=20, label_height=20,
                    label_standoff=16, spacing=2, padding=0, margin=0)
    p.add_layout(legend)
    return p


pa = make_panel(TITLES[0], A_NAT_RUNS, A_ALL_RUNS, A_NAT_MEAN, A_ALL_MEAN, A_STARS,
                553, 355, 107, 10, 36, 35)
pb = make_panel(TITLES[1], B_NAT_RUNS, B_ALL_RUNS, B_NAT_MEAN, B_ALL_MEAN, B_STARS,
                549, 355, 107, 6, 36, 35)
pc = make_panel(TITLES[2], C_NAT_RUNS, C_ALL_RUNS, C_NAT_MEAN, C_ALL_MEAN, C_STARS,
                553, 356, 107, 10, 42, 34)
pd = make_panel(TITLES[3], D_NAT_RUNS, D_ALL_RUNS, D_NAT_MEAN, D_ALL_MEAN, D_STARS,
                549, 356, 107, 6, 42, 34)

layout = column(row(pa, pb), row(pc, pd))
open("out.html", "w").write(file_html(layout, INLINE))
